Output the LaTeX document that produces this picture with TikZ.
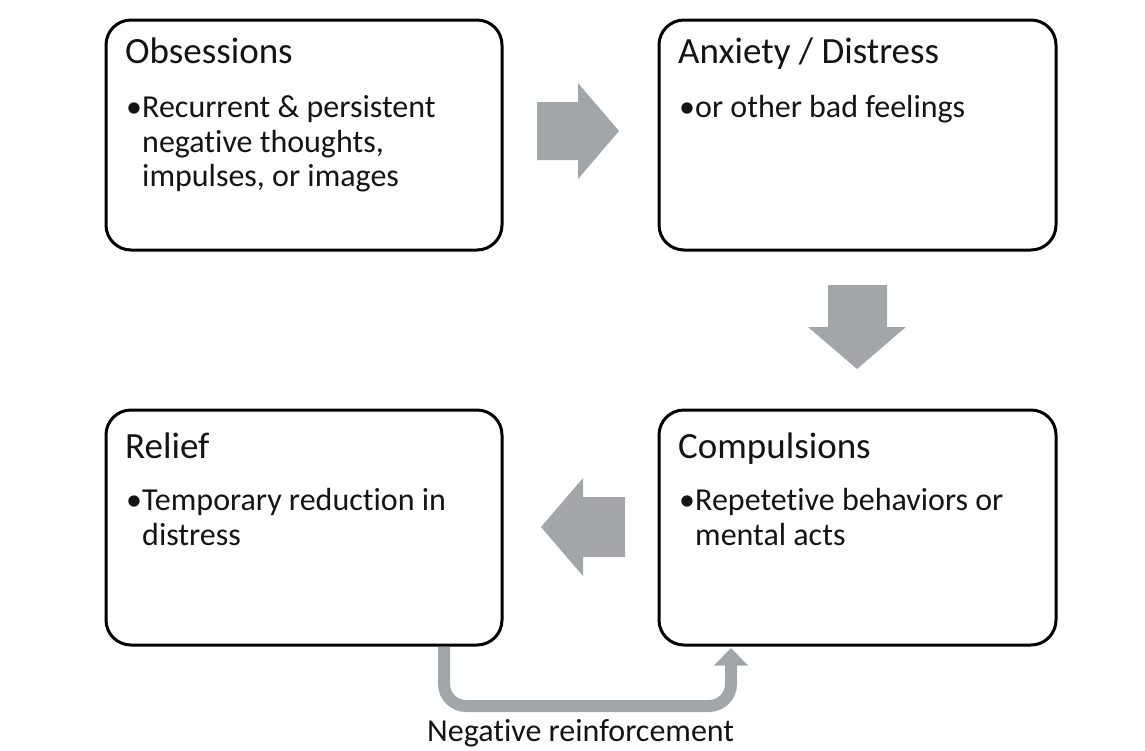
\documentclass[tikz,border=0pt]{standalone}
\usepackage{fontspec}
\setmainfont{Carlito}[RawFeature=-liga]
\definecolor{arrowgray}{RGB}{163,166,168}
\definecolor{inkc}{RGB}{20,20,20}
\tikzset{
  box/.style={draw=black, line width=3pt, rounded corners=25pt, fill=white},
  ttl/.style={anchor=base west, inner sep=0pt, text=inkc, font=\fontsize{37}{42}\selectfont},
  bodyline/.style={anchor=base west, inner sep=0pt, text=inkc, font=\fontsize{32}{36}\selectfont},
  blockarrow/.style={fill=arrowgray, draw=none},
  fbline/.style={draw=arrowgray, line width=12pt, rounded corners=22pt},
}
\begin{document}
\begin{tikzpicture}[x=1pt,y=-1pt]
\useasboundingbox (0,0) rectangle (1145,750);
% boxes
\draw[box] (106,20) rectangle (502,250);
\draw[box] (659,20) rectangle (1056,250);
\draw[box] (106,410) rectangle (502,645);
\draw[box] (659,410) rectangle (1056,645);
% box 1 text
\node[ttl] (t1) at (125,63) {Obsessions};
\node[bodyline] (t1b) at (126,117) {•};
\node[bodyline] (t1l1) at (142,117) {Recurrent \& persistent};
\node[bodyline] (t1l2) at (142,152) {negative thoughts,};
\node[bodyline] (t1l3) at (142,186) {impulses, or images};
% box 2 text
\node[ttl] (t2) at (678,63) {Anxiety / Distress};
\node[bodyline] (t2b) at (679,117) {•};
\node[bodyline] (t2l1) at (695,117) {or other bad feelings};
% box 3 text
\node[ttl] (t3) at (125,458) {Relief};
\node[bodyline] (t3b) at (126,510) {•};
\node[bodyline] (t3l1) at (142,510) {Temporary reduction in};
\node[bodyline] (t3l2) at (142,545) {distress};
% box 4 text
\node[ttl] (t4) at (678,458) {Compulsions};
\node[bodyline] (t4b) at (679,510) {•};
\node[bodyline] (t4l1) at (695,510) {Repetetive behaviors or};
\node[bodyline] (t4l2) at (695,545) {mental acts};
% block arrows
\fill[blockarrow] (537,102) -- (578,102) -- (578,83) -- (619,131) -- (578,179) -- (578,160) -- (537,160) -- cycle;
\fill[blockarrow] (828,285) -- (887,285) -- (887,327) -- (906,327) -- (857,369) -- (808,327) -- (828,327) -- cycle;
\fill[blockarrow] (625,497) -- (583,497) -- (583,478) -- (541,527) -- (583,576) -- (583,557) -- (625,557) -- cycle;
% feedback connector
\coordinate (fbs) at (444,647);
\coordinate (fbe) at (731,665);
\draw[fbline] (fbs) -- (444,706) -- (731,706) -- (fbe);
\fill[blockarrow] (714,665.5) -- (748,665.5) -- (731,648) -- cycle;
\node[bodyline] (nr) at (427,741) {Negative reinforcement};
\end{tikzpicture}
\end{document}
